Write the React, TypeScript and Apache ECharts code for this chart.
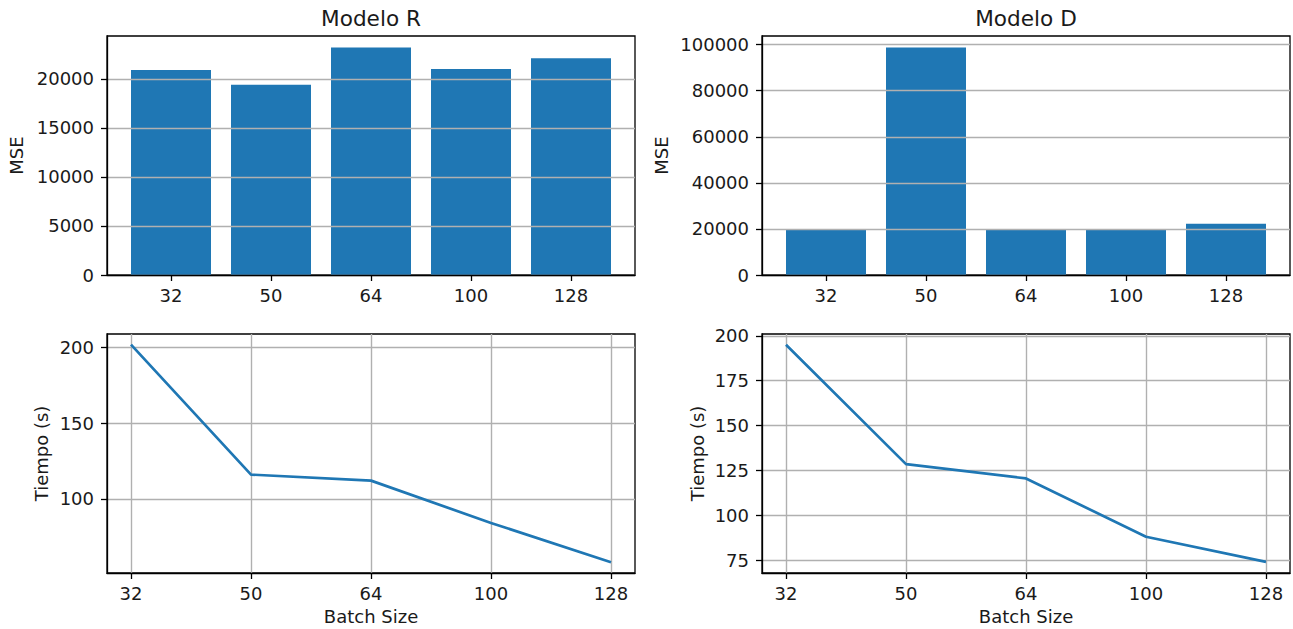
import React, { useEffect, useRef } from "react";
import * as echarts from "echarts";

const batchSizes = ["32", "50", "64", "100", "128"];
const mseR = [20900, 19400, 23200, 21000, 22100];
const mseD = [19900, 98800, 19900, 19800, 22200];
const timeR = [202, 116, 112, 84, 58];
const timeD = [195, 128.5, 120.5, 88, 74];

const mseRTicks = [0, 5000, 10000, 15000, 20000];
const mseDTicks = [0, 20000, 40000, 60000, 80000, 100000];
const timeRTicks = [100, 150, 200];
const timeDTicks = [75, 100, 125, 150, 175, 200];
const xIdx = [0, 1, 2, 3, 4];

const FONT = "DejaVu Sans";
const BLUE = "#1f77b4";
const TXT = "#1a1a1a";

export default function App() {
  const ref = useRef<HTMLDivElement>(null);
  useEffect(() => {
    if (!ref.current) return;
    const chart = echarts.init(ref.current, undefined, { renderer: "svg" });
    const grids = [
      { left: 107, top: 36, width: 528, height: 239 },
      { left: 762, top: 36, width: 528, height: 239 },
      { left: 107, top: 334, width: 528, height: 239 },
      { left: 762, top: 334, width: 528, height: 239 },
    ].map((g) => ({ ...g, show: true, borderColor: "#000", borderWidth: 1.3, backgroundColor: "transparent" }));

    const lbl = { fontFamily: FONT, fontSize: 18, color: TXT };
    const tickStyle = { lineStyle: { color: "#000", width: 1.3 }, length: 6 };
    const gridLine = { show: true, lineStyle: { color: "#b0b0b0", width: 1.4 } };

    const mkX = (gi: number, min: number, max: number, vgrid: boolean, name?: string) => ({
      type: "value",
      gridIndex: gi,
      min,
      max,
      z: 3,
      axisLine: { show: true, onZero: false, lineStyle: { color: "#000", width: 1.3 } },
      axisTick: { show: true, customValues: xIdx, ...tickStyle },
      axisLabel: {
        customValues: xIdx,
        margin: 11,
        ...lbl,
        formatter: (v: number) => batchSizes[Math.round(v)] ?? "",
      },
      splitLine: vgrid ? gridLine : { show: false },
      name: name || "",
      nameLocation: "middle",
      nameGap: 34,
      nameTextStyle: { ...lbl },
    });
    const mkY = (gi: number, min: number, max: number, ticks: number[], name: string, gap: number) => ({
      type: "value",
      gridIndex: gi,
      min,
      max,
      z: 3,
      axisLine: { show: true, onZero: false, lineStyle: { color: "#000", width: 1.3 } },
      axisTick: { show: true, customValues: ticks, ...tickStyle },
      axisLabel: { customValues: ticks, margin: 13, ...lbl, formatter: (v: number) => String(v) },
      splitLine: gridLine,
      name,
      nameLocation: "middle",
      nameRotate: 90,
      nameGap: gap,
      nameTextStyle: { ...lbl },
    });

    const option = {
      animation: false,
      backgroundColor: "#fff",
      textStyle: { fontFamily: FONT },
      grid: grids,
      xAxis: [
        mkX(0, -0.64, 4.64, false),
        mkX(1, -0.64, 4.64, false),
        mkX(2, -0.2, 4.2, true, "Batch Size"),
        mkX(3, -0.2, 4.2, true, "Batch Size"),
      ],
      yAxis: [
        mkY(0, 0, 24360, mseRTicks, "MSE", 82),
        mkY(1, 0, 103740, mseDTicks, "MSE", 92),
        mkY(2, 50.9, 209, timeRTicks, "Tiempo (s)", 57),
        mkY(3, 67.8, 201, timeDTicks, "Tiempo (s)", 56),
      ],
      series: [
        {
          type: "bar",
          xAxisIndex: 0,
          yAxisIndex: 0,
          barWidth: 80,
          z: 2,
          itemStyle: { color: BLUE },
          data: mseR.map((v, i) => [i, v]),
        },
        {
          type: "bar",
          xAxisIndex: 1,
          yAxisIndex: 1,
          barWidth: 80,
          z: 2,
          itemStyle: { color: BLUE },
          data: mseD.map((v, i) => [i, v]),
        },
        {
          type: "line",
          xAxisIndex: 2,
          yAxisIndex: 2,
          showSymbol: false,
          z: 5,
          lineStyle: { color: BLUE, width: 2.7 },
          data: timeR.map((v, i) => [i, v]),
        },
        {
          type: "line",
          xAxisIndex: 3,
          yAxisIndex: 3,
          showSymbol: false,
          z: 5,
          lineStyle: { color: BLUE, width: 2.7 },
          data: timeD.map((v, i) => [i, v]),
        },
      ],
      graphic: [
        {
          type: "text",
          x: 371,
          y: 18,
          style: { text: "Modelo R", align: "center", verticalAlign: "middle", fontFamily: FONT, fontSize: 21.6, fill: TXT },
        },
        {
          type: "text",
          x: 1026,
          y: 18,
          style: { text: "Modelo D", align: "center", verticalAlign: "middle", fontFamily: FONT, fontSize: 21.6, fill: TXT },
        },
      ],
    };
    chart.setOption(option as any);
    return () => chart.dispose();
  }, []);
  return (
    <div
      ref={ref}
      style={{ position: "fixed", left: 0, top: 0, width: 1293, height: 629, background: "#fff" }}
    />
  );
}
